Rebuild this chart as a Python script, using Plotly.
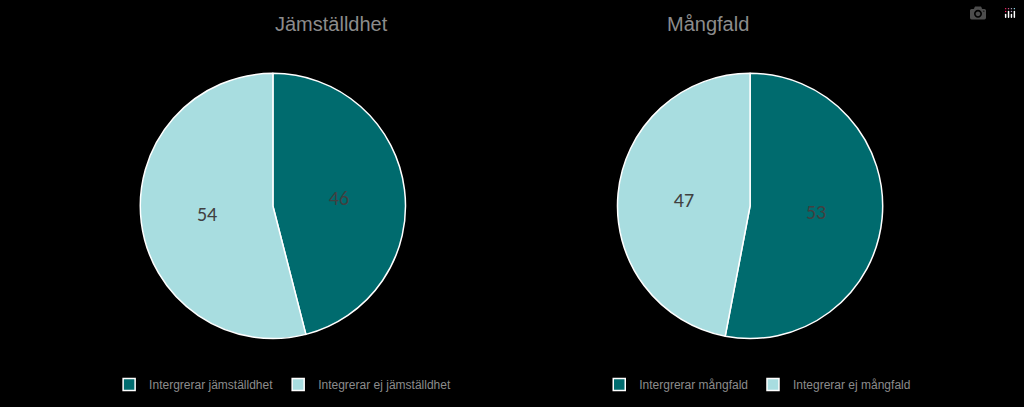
import plotly.graph_objects as go

labels1 = ["Intergrerar jämställdhet", "Integrerar ej jämställdhet"]
values1 = [46, 54]
labels2 = ["Intergrerar mångfald", "Integrerar ej mångfald"]
values2 = [53, 47]
titles = ["Jämställdhet", "Mångfald"]
colors = ["#006B6E", "#A8DDE0"]

fig = go.Figure()
common = dict(sort=False, direction="clockwise", rotation=0,
              marker=dict(colors=colors, line=dict(color="white", width=1.5)),
              textinfo="value", textposition="inside",
              insidetextorientation="horizontal",
              textfont=dict(size=20, color="#404040", family="Calibri, Carlito, Liberation Sans, sans-serif"),
              hoverinfo="label+value")
fig.add_trace(go.Pie(labels=labels1, values=values1, domain=dict(x=[0.137, 0.396], y=[0.167, 0.821]),
                     legend="legend", **common))
fig.add_trace(go.Pie(labels=labels2, values=values2, domain=dict(x=[0.603, 0.862], y=[0.167, 0.821]),
                     legend="legend2", **common))

legfont = dict(size=12, color="#8c8c8c", family="Liberation Sans, sans-serif")
fig.update_layout(
    width=1024, height=407, paper_bgcolor="black", plot_bgcolor="black",
    margin=dict(l=0, r=0, t=0, b=0), showlegend=True,
    legend=dict(orientation="h", x=0.276, xanchor="center", y=0.055, yanchor="middle",
                font=legfont, bgcolor="rgba(0,0,0,0)", itemwidth=30),
    legend2=dict(orientation="h", x=0.74, xanchor="center", y=0.055, yanchor="middle",
                 font=legfont, bgcolor="rgba(0,0,0,0)", itemwidth=30),
    annotations=[
        dict(text=titles[0], x=0.267, y=0.94, yanchor="middle", xref="paper", yref="paper", showarrow=False,
             font=dict(size=20, color="#8c8c8c", family="Liberation Sans, sans-serif")),
        dict(text=titles[1], x=0.733, y=0.94, yanchor="middle", xref="paper", yref="paper", showarrow=False,
             font=dict(size=20, color="#8c8c8c", family="Liberation Sans, sans-serif")),
    ],
)
fig.write_html("out.html", post_script="document.body.style.margin='0';document.body.style.background='black';")
